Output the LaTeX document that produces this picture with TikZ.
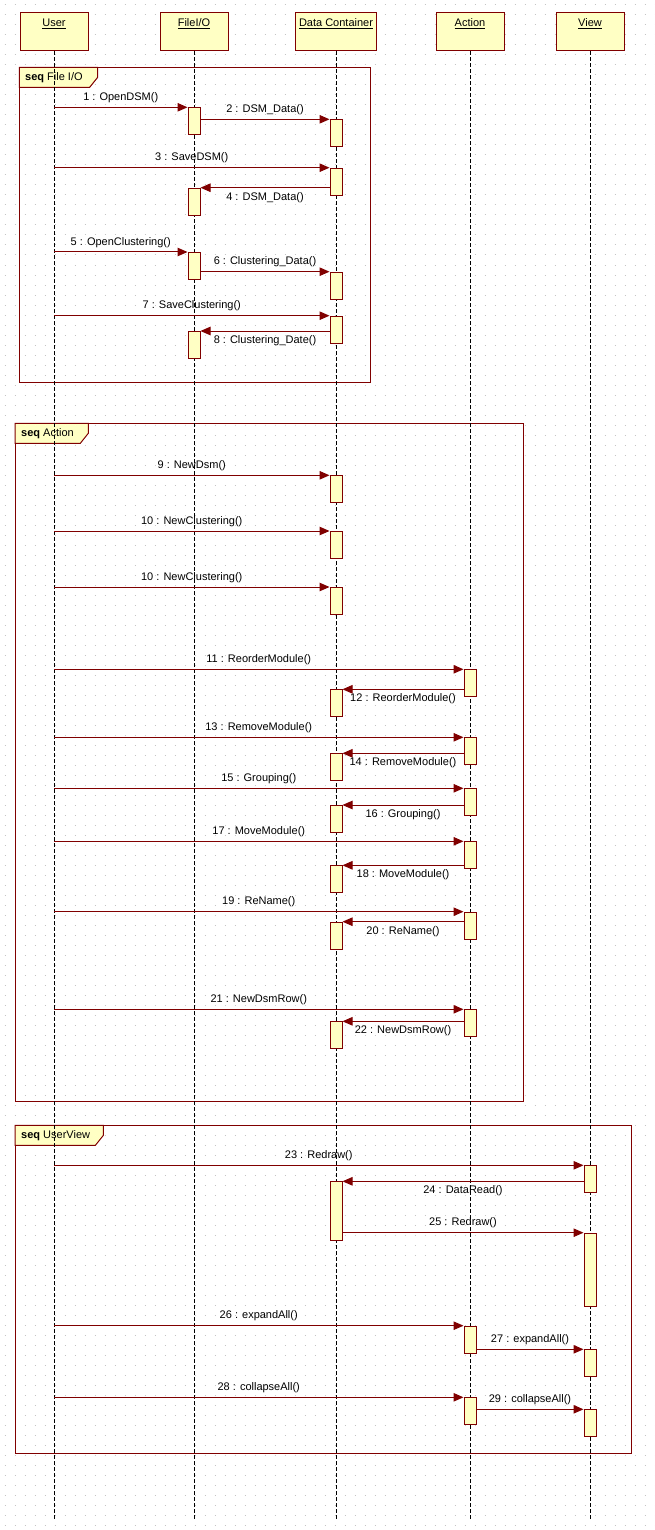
\documentclass[tikz,border=0pt]{standalone}
\usepackage{fontspec}
\setmainfont{Liberation Sans}
\usepackage{tikz}
\usetikzlibrary{arrows.meta}
\definecolor{umlred}{HTML}{800000}
\definecolor{umlfill}{HTML}{FFFFC4}
\definecolor{griddot}{HTML}{C4C4C4}
\newcommand{\uname}[1]{\underline{\smash{#1}}}
\tikzset{
  txt/.style={font=\fontsize{11}{13}\selectfont, text=black},
  head/.style={txt, draw=umlred, fill=umlfill, line width=1pt, anchor=north,
    minimum width=68pt, inner ysep=4pt, text height=10.8pt, text depth=19.8pt},
  act/.style={draw=umlred, fill=umlfill, line width=1pt, anchor=north,
    minimum width=12pt, inner sep=0pt},
  life/.style={draw=black, line width=1pt, dash pattern=on 4pt off 2pt},
  msg/.style={draw=umlred, line width=1pt, -{Triangle[length=10pt,width=8.5pt]}},
  lab/.style={txt, inner sep=0pt},
  frame/.style={draw=umlred, line width=1pt},
  tab/.style={draw=umlred, fill=umlfill, line width=1pt},
  tabtxt/.style={txt, anchor=west, inner sep=0pt},
  dots/.style={draw=griddot, line width=1pt, dash pattern=on 1pt off 9pt},
}

\begin{document}
\begin{tikzpicture}[x=1pt, y=-1pt]
  \useasboundingbox[fill=white] (0,0) rectangle (655,1530);

  % background grid
  \foreach \gy in {5,15,...,1525}
    \draw[dots] (4.5,\gy) -- (655,\gy);

  % combined fragments
  \draw[frame] (19.3,67.3) rectangle (370.5,382.3);
  \draw[tab] (19.3,67.3) -- ++(78.4,0) -- ++(0,10) -- ++(-8,10) -- (19.3,87.3) -- cycle;
  \node[tabtxt] (seqfile) at (25,77.3) {\textbf{seq} File I/O};

  \draw[frame] (15,423.3) rectangle (523,1101);
  \draw[tab] (15,423.3) -- ++(73.3,0) -- ++(0,10) -- ++(-8,10) -- (15,443.3) -- cycle;
  \node[tabtxt] (seqaction) at (21,433.3) {\textbf{seq} Action};

  \draw[frame] (15,1125.3) rectangle (631.7,1453.3);
  \draw[tab] (15,1125.3) -- ++(88.4,0) -- ++(0,10) -- ++(-8,10) -- (15,1145.3) -- cycle;
  \node[tabtxt] (sequserview) at (21,1135.3) {\textbf{seq} UserView};

  % lifelines
  \node[head] (user) at (54,11.7) {\uname{User}};
  \node[head] (fileio) at (194,11.7) {\uname{FileI/O}};
  \node[head, minimum width=81pt] (data) at (336,11.7) {\uname{Data Container}};
  \node[head] (action) at (470,11.7) {\uname{Action}};
  \node[head] (view) at (590,11.7) {\uname{View}};
  \coordinate (bot) at (0,1521);
  \foreach \n in {user,fileio,data,action,view}
    \draw[life] (\n.south) -- (\n.south |- bot);

  % activations
  \foreach \n/\x/\y/\h in {f1/194/107.3/27pt, d1/336/119.3/27pt, d2/336/167.7/27pt,
      f2/194/187.7/27pt, f3/194/252/27pt, d3/336/271.7/27pt, d4/336/315.7/27pt,
      f4/194/331/27pt, d5/336/475.3/27pt, d6/336/531/27pt, d7/336/587/27pt,
      a1/470/669.3/27pt, d8/336/689.3/27pt, a2/470/737.3/27pt, d9/336/753.3/27pt,
      a3/470/788.3/27pt, d10/336/805/27pt, a4/470/841.3/27pt, d11/336/865.3/27pt,
      a5/470/911.7/27pt, d12/336/921.7/27pt, a6/470/1009.3/27pt, d13/336/1021.3/27pt,
      v1/590/1165.3/27pt, d14/336/1181.3/59pt, v2/590/1232.7/73.6pt,
      a7/470/1325.7/27pt, v3/590/1349.3/27pt, a8/470/1397.3/27pt, v4/590/1409.3/27pt}
    \node[act, minimum height=\h] (\n) at (\x,\y) {};

  % messages
  \draw[msg] (user.south |- f1.north) -- (f1.north west) node[lab, midway, above=4pt] {1 : OpenDSM()};
  \draw[msg] (f1.east |- d1.north) -- (d1.north west) node[lab, midway, above=4pt] {2 : DSM\_Data()};
  \draw[msg] (user.south |- d2.north) -- (d2.north west) node[lab, midway, above=4pt] {3 : SaveDSM()};
  \draw[msg] (d2.west |- f2.north) -- (f2.north east) node[lab, midway, below=4pt] {4 : DSM\_Data()};
  \draw[msg] (user.south |- f3.north) -- (f3.north west) node[lab, midway, above=4pt] {5 : OpenClustering()};
  \draw[msg] (f3.east |- d3.north) -- (d3.north west) node[lab, midway, above=4pt] {6 : Clustering\_Data()};
  \draw[msg] (user.south |- d4.north) -- (d4.north west) node[lab, midway, above=4pt] {7 : SaveClustering()};
  \draw[msg] (d4.west |- f4.north) -- (f4.north east) node[lab, midway, below=4pt] {8 : Clustering\_Date()};

  \draw[msg] (user.south |- d5.north) -- (d5.north west) node[lab, midway, above=4pt] {9 : NewDsm()};
  \draw[msg] (user.south |- d6.north) -- (d6.north west) node[lab, midway, above=4pt] {10 : NewClustering()};
  \draw[msg] (user.south |- d7.north) -- (d7.north west) node[lab, midway, above=4pt] {10 : NewClustering()};
  \draw[msg] (user.south |- a1.north) -- (a1.north west) node[lab, midway, above=4pt] {11 : ReorderModule()};
  \draw[msg] (a1.west |- d8.north) -- (d8.north east) node[lab, midway, below=4pt] {12 : ReorderModule()};
  \draw[msg] (user.south |- a2.north) -- (a2.north west) node[lab, midway, above=4pt] {13 : RemoveModule()};
  \draw[msg] (a2.west |- d9.north) -- (d9.north east) node[lab, midway, below=4pt] {14 : RemoveModule()};
  \draw[msg] (user.south |- a3.north) -- (a3.north west) node[lab, midway, above=4pt] {15 : Grouping()};
  \draw[msg] (a3.west |- d10.north) -- (d10.north east) node[lab, midway, below=4pt] {16 : Grouping()};
  \draw[msg] (user.south |- a4.north) -- (a4.north west) node[lab, midway, above=4pt] {17 : MoveModule()};
  \draw[msg] (a4.west |- d11.north) -- (d11.north east) node[lab, midway, below=4pt] {18 : MoveModule()};
  \draw[msg] (user.south |- a5.north) -- (a5.north west) node[lab, midway, above=4pt] {19 : ReName()};
  \draw[msg] (a5.west |- d12.north) -- (d12.north east) node[lab, midway, below=4pt] {20 : ReName()};
  \draw[msg] (user.south |- a6.north) -- (a6.north west) node[lab, midway, above=4pt] {21 : NewDsmRow()};
  \draw[msg] (a6.west |- d13.north) -- (d13.north east) node[lab, midway, below=4pt] {22 : NewDsmRow()};

  \draw[msg] (user.south |- v1.north) -- (v1.north west) node[lab, midway, above=4pt] {23 : Redraw()};
  \draw[msg] (v1.west |- d14.north) -- (d14.north east) node[lab, midway, below=4pt] {24 : DataRead()};
  \draw[msg] (d14.east |- v2.north) -- (v2.north west) node[lab, midway, above=4pt] {25 : Redraw()};
  \draw[msg] (user.south |- a7.north) -- (a7.north west) node[lab, midway, above=4pt] {26 : expandAll()};
  \draw[msg] (a7.east |- v3.north) -- (v3.north west) node[lab, midway, above=4pt] {27 : expandAll()};
  \draw[msg] (user.south |- a8.north) -- (a8.north west) node[lab, midway, above=4pt] {28 : collapseAll()};
  \draw[msg] (a8.east |- v4.north) -- (v4.north west) node[lab, midway, above=4pt] {29 : collapseAll()};
\end{tikzpicture}
\end{document}
